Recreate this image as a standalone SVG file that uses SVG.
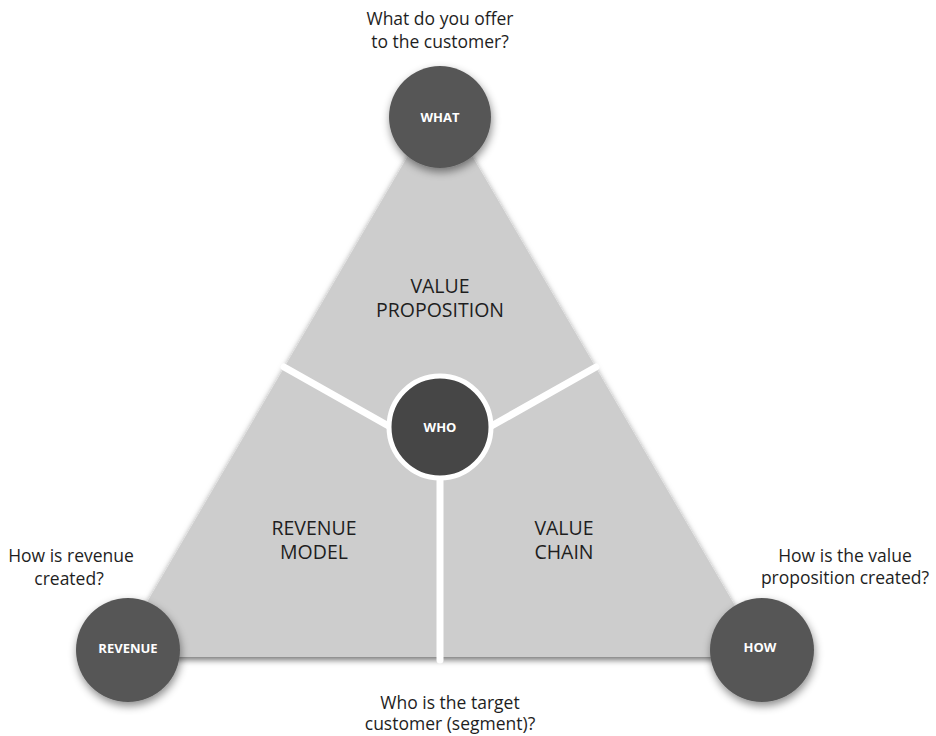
<svg xmlns="http://www.w3.org/2000/svg" width="936" height="736" viewBox="0 0 936 736">
  <defs>
    <filter id="triShadow" x="-10%" y="-10%" width="120%" height="120%">
      <feDropShadow dx="0" dy="3" stdDeviation="3" flood-color="#000" flood-opacity="0.55"/>
    </filter>
    <filter id="discShadow" x="-30%" y="-30%" width="160%" height="160%">
      <feDropShadow dx="1" dy="4" stdDeviation="4" flood-color="#000" flood-opacity="0.45"/>
    </filter>
  </defs>
  <style>
    text { font-family: "Open Sans", "Liberation Sans", sans-serif; text-anchor: middle; }
    .question { font-size: 17.5px; fill: #1e1e1e; }
    .area { font-size: 19.5px; fill: #1e1e1e; }
    .disc { fill: #575757; filter: url(#discShadow); }
    .disc-label { font-size: 13px; font-weight: 700; fill: #ffffff; }
    .divider { stroke: #ffffff; stroke-width: 7; stroke-linecap: round; fill: none; }
  </style>

  <rect width="936" height="736" fill="#ffffff"/>

  <!-- business model triangle -->
  <g id="triangle">
    <polygon points="440,101 115,657 765,657" fill="#cdcdcd" filter="url(#triShadow)"/>
    <text class="area" x="440" y="293">VALUE</text>
    <text class="area" x="440" y="317">PROPOSITION</text>
    <text class="area" x="314" y="535">REVENUE</text>
    <text class="area" x="314" y="559">MODEL</text>
    <text class="area" x="564" y="535">VALUE</text>
    <text class="area" x="564" y="559">CHAIN</text>
  </g>

  <!-- dividers between the three areas -->
  <g id="connectors">
    <line class="divider" x1="284" y1="367" x2="440" y2="455"/>
    <line class="divider" x1="596" y1="367" x2="440" y2="455"/>
    <line class="divider" x1="440" y1="660" x2="440" y2="455" stroke-width="6"/>
  </g>

  <g id="node-who">
    <circle cx="440" cy="427" r="51" fill="#464646" stroke="#ffffff" stroke-width="5"/>
    <text class="disc-label" x="440" y="432">WHO</text>
  </g>

  <g id="node-what">
    <circle class="disc" cx="440" cy="117" r="51"/>
    <text class="disc-label" x="440" y="122">WHAT</text>
    <text class="question" x="440" y="25">What do you offer</text>
    <text class="question" x="440" y="48">to the customer?</text>
  </g>

  <g id="node-revenue">
    <circle class="disc" cx="128" cy="650" r="52"/>
    <text class="disc-label" x="128" y="653" font-weight="600">REVENUE</text>
    <text class="question" x="71" y="562">How is revenue</text>
    <text class="question" x="69" y="585">created?</text>
  </g>

  <g id="node-how">
    <circle class="disc" cx="762" cy="650" r="52"/>
    <text class="disc-label" x="760" y="652">HOW</text>
    <text class="question" x="845" y="562">How is the value</text>
    <text class="question" x="845" y="584">proposition created?</text>
  </g>

  <g id="segment-question">
    <text class="question" x="450" y="709">Who is the target</text>
    <text class="question" x="450" y="730">customer (segment)?</text>
  </g>
</svg>
